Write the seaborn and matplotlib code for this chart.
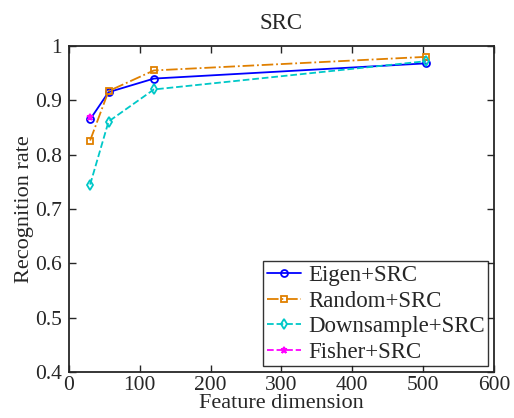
import matplotlib
matplotlib.use("Agg")
import matplotlib.pyplot as plt
import seaborn as sns
import pandas as pd

dims = [30, 56, 120, 504]
eigen = [0.865, 0.915, 0.94, 0.968]
random_ = [0.826, 0.917, 0.955, 0.980]
down = [0.745, 0.861, 0.920, 0.972]
fisher_dims = [30]
fisher = [0.869]

names = ["Eigen+SRC", "Random+SRC", "Downsample+SRC", "Fisher+SRC"]
colors = ["#0000FF", "#E08000", "#00C8C8", "#FF00FF"]
markers = ["o", "s", "d", "*"]
linestyles = ["-", "-.", "--", "--"]

sns.set_style("ticks")
plt.rcParams["font.family"] = ["Liberation Serif", "DejaVu Serif"]
plt.rcParams["mathtext.fontset"] = "stix"

fig = plt.figure(figsize=(5.14, 4.18), dpi=100)
ax = fig.add_axes([0.134, 0.110, 0.827, 0.780])

series = [(dims, eigen), (dims, random_), (dims, down), (fisher_dims, fisher)]
for (xs, ys), name, c, m, ls in zip(series, names, colors, markers, linestyles):
    df = pd.DataFrame({"x": xs, "y": ys})
    sns.lineplot(data=df, x="x", y="y", ax=ax, color=c, marker=m, linestyle=ls,
                 linewidth=1.3, markersize=5, markerfacecolor="none",
                 markeredgecolor=c, markeredgewidth=1.3, label=name)

ax.set_xlim(0, 600)
ax.set_ylim(0.4, 1.0)
ax.set_xticks([0, 100, 200, 300, 400, 500, 600])
ax.set_yticks([0.4, 0.5, 0.6, 0.7, 0.8, 0.9, 1.0])
ax.set_yticklabels(["0.4", "0.5", "0.6", "0.7", "0.8", "0.9", "1"])
ax.tick_params(direction="in", top=True, right=True, labelsize=15.5, length=5, width=1)
ax.tick_params(axis="x", pad=3)
ax.tick_params(axis="y", pad=5)
for s in ax.spines.values():
    s.set_linewidth(1.3)
    s.set_visible(True)
ax.set_xlabel("Feature dimension", fontsize=16, labelpad=-1)
ax.set_ylabel("Recognition rate", fontsize=16, labelpad=1)
ax.set_title("SRC", fontsize=16.5, pad=12)

leg = ax.legend(loc="lower right", fontsize=16.5, frameon=True, fancybox=False,
                edgecolor="black", borderpad=0.15, labelspacing=0.2,
                handlelength=1.5, handletextpad=0.3, borderaxespad=0.25)
leg.get_frame().set_linewidth(1.0)

fig.savefig("out.png", dpi=100)
